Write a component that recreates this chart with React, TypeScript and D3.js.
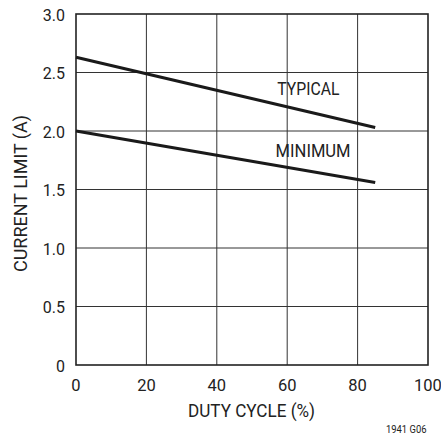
import React from "react";
import * as d3 from "d3";

const xTicks = [0, 20, 40, 60, 80, 100];
const yTicks = [0, 0.5, 1.0, 1.5, 2.0, 2.5, 3.0];
const yTickLabels = ["0", "0.5", "1.0", "1.5", "2.0", "2.5", "3.0"];
const typicalX = [0, 85];
const typicalY = [2.63, 2.03];
const minimumX = [0, 85];
const minimumY = [2.0, 1.56];
const seriesLabels = [
  { text: "TYPICAL", x: 57.2, y: 2.31, len: 62 },
  { text: "MINIMUM", x: 56.7, y: 1.78, len: 75 },
];

const FONT = "'Roboto', 'Liberation Sans', sans-serif";

export default function App() {
  const W = 441, H = 438;
  const left = 76, right = 428, top = 14, bottom = 365;
  const x = d3.scaleLinear().domain([0, 100]).range([left, right]);
  const y = d3.scaleLinear().domain([0, 3]).range([bottom, top]);
  const line = d3.line<[number, number]>().x((d) => x(d[0])).y((d) => y(d[1]));
  const typ = typicalX.map((v, i) => [v, typicalY[i]] as [number, number]);
  const min = minimumX.map((v, i) => [v, minimumY[i]] as [number, number]);

  return (
    <svg width={W} height={H} style={{ position: "absolute", left: 0, top: 0, background: "#fff" }}>
      <rect width={W} height={H} fill="#fff" />
      {xTicks.slice(1, -1).map((t) => (
        <line key={"gx" + t} x1={x(t)} x2={x(t)} y1={top} y2={bottom} stroke="#333" strokeWidth={1} />
      ))}
      {yTicks.slice(1, -1).map((t) => (
        <line key={"gy" + t} x1={left} x2={right} y1={y(t)} y2={y(t)} stroke="#333" strokeWidth={1} />
      ))}
      <rect x={left} y={top} width={right - left} height={bottom - top} fill="none" stroke="#222" strokeWidth={1.6} />
      <path d={line(typ) || ""} fill="none" stroke="#1a1a1a" strokeWidth={3} />
      <path d={line(min) || ""} fill="none" stroke="#1a1a1a" strokeWidth={3} />
      {seriesLabels.map((s) => (
        <text key={s.text} x={x(s.x)} y={y(s.y)} fontFamily={FONT} fontSize={18.5} fill="#222"
          textLength={s.len} lengthAdjust="spacingAndGlyphs">
          {s.text}
        </text>
      ))}
      {yTicks.map((t, i) => (
        <text key={"yl" + t} x={65} y={y(t) + 6.5} textAnchor="end" fontFamily={FONT} fontSize={16} fill="#222">
          {yTickLabels[i]}
        </text>
      ))}
      {xTicks.map((t) => (
        <text key={"xl" + t} x={x(t)} y={bottom + 25.5} textAnchor="middle" fontFamily={FONT} fontSize={16.5} fill="#222">
          {t}
        </text>
      ))}
      <text x={188} y={416.5} fontFamily={FONT} fontSize={19} fill="#222"
        textLength={127} lengthAdjust="spacingAndGlyphs">
        DUTY CYCLE (%)
      </text>
      <text transform={`translate(27,272) rotate(-90)`} fontFamily={FONT} fontSize={19} fill="#222"
        textLength={157} lengthAdjust="spacingAndGlyphs">
        CURRENT LIMIT (A)
      </text>
      <text x={386} y={433} fontFamily={FONT} fontSize={11} fill="#222"
        textLength={40.5} lengthAdjust="spacingAndGlyphs">
        1941 G06
      </text>
    </svg>
  );
}
